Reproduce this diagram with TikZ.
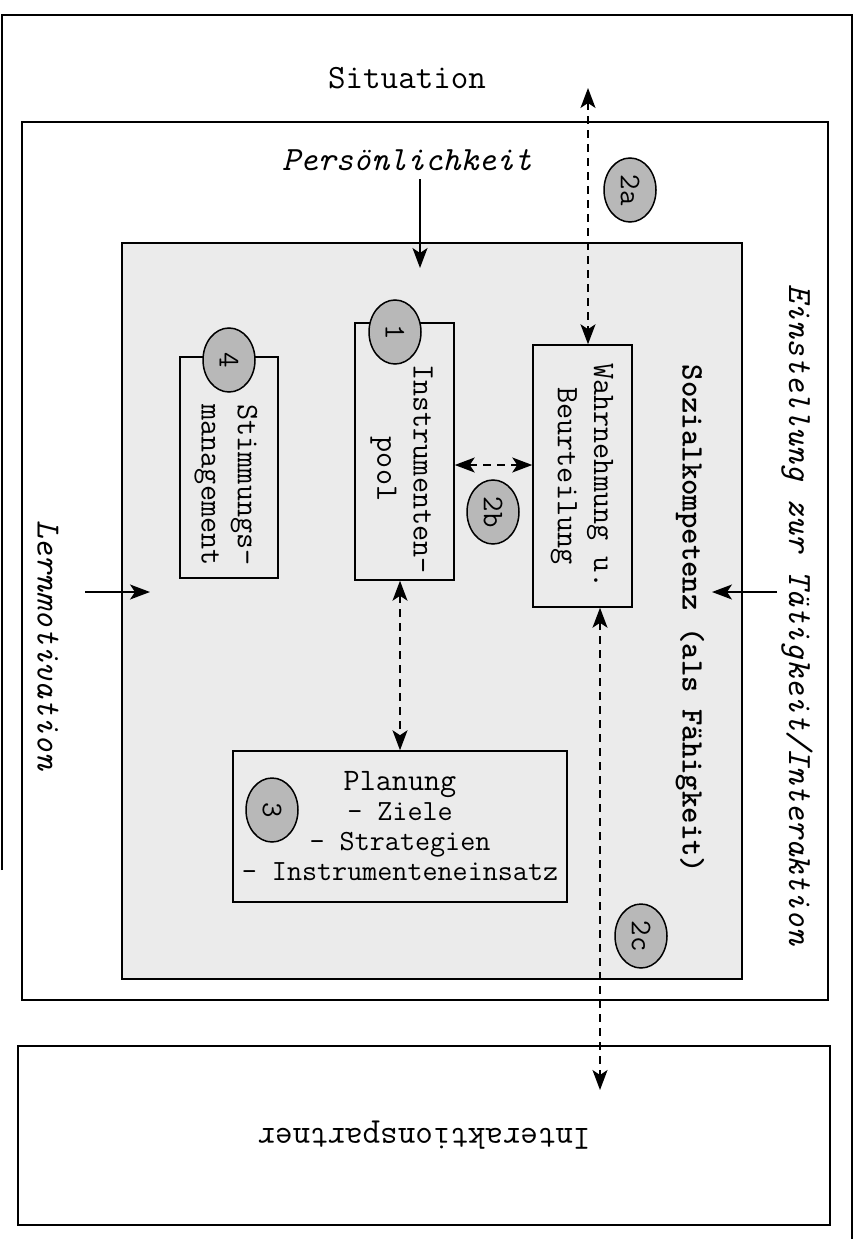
\documentclass[tikz,border=0pt]{standalone}
\usepackage{fontspec}
\usetikzlibrary{arrows.meta,shapes.geometric}

\begin{document}
\begin{tikzpicture}[x=0.4pt,y=-0.4pt]
\tikzset{
	FrameStyle/.style = {draw, line width=0.8pt, inner sep=0pt},
	GrayStyle/.style = {draw, line width=0.8pt, fill=black!8, inner sep=0pt},
	BoxStyle/.style = {draw, line width=0.6pt, fill=black!8, inner sep=0pt},
	BoxText/.style = {align=center, rotate=-90, font=\ttfamily\fontsize{12.5}{14.5}\selectfont},
	BadgeStyle/.style = {draw, ellipse, line width=0.6pt, fill=black!28, inner sep=0pt,
		minimum width=25.6pt, minimum height=20.8pt, rotate=-90,
		font=\ttfamily\fontsize{12}{12}\selectfont},
	TextStyle/.style = {font=\ttfamily\fontsize{13.6}{15}\selectfont},
	ItStyle/.style = {font=\ttfamily\itshape\fontsize{13.6}{15}\selectfont},
	BoldStyle/.style = {font=\ttfamily\bfseries\fontsize{12.5}{14}\selectfont},
	ArrowStyle/.style = {line width=0.6pt, -{Stealth[length=8pt,width=6pt,inset=2pt]}},
	DashStyle/.style = {line width=0.7pt, dash pattern=on 3.2pt off 2.4pt,
		{Stealth[length=8pt,width=6pt,inset=2pt]}-{Stealth[length=8pt,width=6pt,inset=2pt]}}
}
\useasboundingbox (0,0) rectangle (859,1239);

% Situation
\draw[line width=0.8pt] (2,870) -- (2,15) -- (852,15) -- (852,1239);
\node[TextStyle] (sit) at (407,78) {Situation};

% Einstellung / Persoenlichkeit
\node[FrameStyle, minimum width=322.4pt, minimum height=351.2pt] (einst) at (425,561) {};
\node[ItStyle] (pers) at (407,160) {Persönlichkeit};
\node[ItStyle, rotate=-90] (einstText) at (797,615) {Einstellung zur Tätigkeit/Interaktion};
\node[ItStyle, rotate=-90] (lern) at (48,645) {Lernmotivation};

% Sozialkompetenz
\node[GrayStyle, minimum width=248pt, minimum height=294.4pt] (sozial) at (432,611) {};
\node[BoldStyle, rotate=-90] (sozialText) at (690,619) {Sozialkompetenz (als Fähigkeit)};

\node[BoxStyle, minimum width=39.2pt, minimum height=88.4pt] (stimm) at (229,467.5) {};
\node[BoxStyle, minimum width=39.6pt, minimum height=102.8pt] (pool) at (404.5,451.5) {};
\node[BoxStyle, minimum width=39.6pt, minimum height=104.8pt] (wahr) at (582.5,476) {};
\node[BoxText] (stimmText) at (226,485) {Stimmungs-\\management};
\node[BoxText] (poolText) at (401.5,469) {Instrumenten-\\pool};
\node[BoxText] (wahrText) at (582,476) {Wahrnehmung u.\\Beurteilung};
\node[BoxStyle, minimum width=133.6pt, minimum height=60.4pt, align=center,
	font=\ttfamily\fontsize{11.7}{12}\selectfont] (plan) at (400,826.5)
	{{\fontsize{12.5}{12}\selectfont Planung}\\- Ziele\\- Strategien\\- Instrumenteneinsatz};

% Interaktionspartner
\node[FrameStyle, TextStyle, rotate=180, minimum width=324.8pt, minimum height=71.6pt] (partner) at (424,1135.5) {Interaktionspartner};

% Pfeile
\coordinate (persEnd) at (420,268);
\coordinate (sitEnd) at (588,88);
\coordinate (partnerEnd) at (600,1090);
\coordinate (rechtsA) at (777,592);
\coordinate (rechtsB) at (712,592);
\coordinate (linksA) at (85,592);
\coordinate (linksB) at (150,592);
\draw[ArrowStyle] (pers.south -| persEnd) -- (persEnd);
\draw[ArrowStyle] (rechtsA) -- (rechtsB);
\draw[ArrowStyle] (linksA) -- (linksB);
\draw[DashStyle] (sitEnd) -- (sitEnd |- wahr.north);
\draw[DashStyle] (pool.east |- 0,465) -- (wahr.west |- 0,465);
\draw[DashStyle] (plan.north |- pool.south) -- (plan.north);
\draw[DashStyle] (partnerEnd |- wahr.south) -- (partnerEnd);

% Nummern
\node[BadgeStyle] (b4) at (229,360) {4};
\node[BadgeStyle] (b1) at (395,332) {1};
\node[BadgeStyle] (b2a) at (630,190) {2a};
\node[BadgeStyle] (b2b) at (493,512) {2b};
\node[BadgeStyle] (b3) at (272,810) {3};
\node[BadgeStyle] (b2c) at (641,936) {2c};
\end{tikzpicture}
\end{document}
